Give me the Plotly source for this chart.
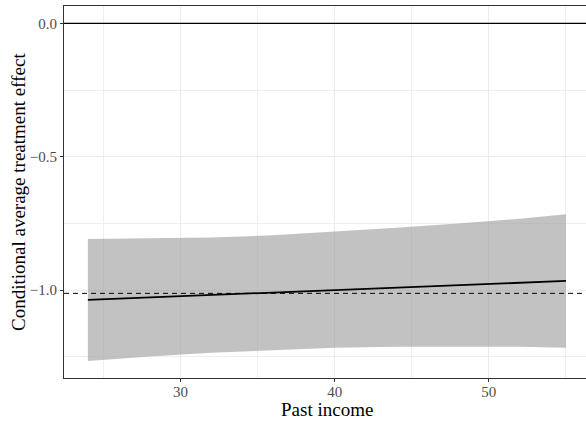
import plotly.graph_objects as go

# Data
past_income = [24, 28, 32, 36, 40, 44, 48, 52, 55]
cate = [-1.037, -1.028, -1.019, -1.010, -1.001, -0.991, -0.982, -0.973, -0.966]
upper = [-0.809, -0.807, -0.803, -0.795, -0.782, -0.767, -0.751, -0.733, -0.716]
lower = [-1.266, -1.249, -1.235, -1.225, -1.217, -1.213, -1.212, -1.213, -1.217]
ate = -1.0125
zero = 0.0

x_ticks = [30, 40, 50]
x_minor = [25, 35, 45, 55]
y_ticks = [0.0, -0.5, -1.0]
y_ticklabels = ["0.0", "\u22120.5", "\u22121.0"]
y_minor = [-0.25, -0.75, -1.25]

FONT = "Liberation Serif"
xr = [22.45, 56.3]
yr = [-1.330, 0.065]

fig = go.Figure()

fig.add_trace(go.Scatter(x=past_income, y=upper, mode="lines",
                         line=dict(width=0), hoverinfo="skip", showlegend=False))
fig.add_trace(go.Scatter(x=past_income, y=lower, mode="lines", fill="tonexty",
                         fillcolor="rgba(153,153,153,0.6)",
                         line=dict(width=0), hoverinfo="skip", showlegend=False))
fig.add_trace(go.Scatter(x=xr, y=[zero, zero], mode="lines",
                         line=dict(color="black", width=1.2), showlegend=False))
fig.add_trace(go.Scatter(x=xr, y=[ate, ate], mode="lines",
                         line=dict(color="black", width=1, dash="5px,4px"), showlegend=False))
fig.add_trace(go.Scatter(x=past_income, y=cate, mode="lines",
                         line=dict(color="black", width=1.8), showlegend=False))

fig.update_layout(
    width=586, height=422,
    margin=dict(l=64, r=0, t=6, b=44, autoexpand=False),
    paper_bgcolor="white", plot_bgcolor="white",
    font=dict(family=FONT, color="black"),
    showlegend=False,
    xaxis=dict(
        range=xr, tickvals=x_ticks, ticktext=[str(v) for v in x_ticks],
        automargin=False,
        showgrid=True, gridcolor="#EBEBEB", gridwidth=1,
        minor=dict(tickvals=x_minor, showgrid=True, gridcolor="#EFEFEF", gridwidth=1, ticks=""),
        showline=True, linecolor="#333333", linewidth=1, mirror=True,
        ticks="outside", ticklen=3, tickcolor="#333333", tickwidth=1,
        ticklabelstandoff=-3,
        tickfont=dict(family=FONT, size=15, color="#4D4D4D"),
        zeroline=False,
    ),
    yaxis=dict(
        range=yr, tickvals=y_ticks, ticktext=y_ticklabels,
        automargin=False,
        showgrid=True, gridcolor="#EBEBEB", gridwidth=1,
        minor=dict(tickvals=y_minor, showgrid=True, gridcolor="#EFEFEF", gridwidth=1, ticks=""),
        showline=True, linecolor="#333333", linewidth=1, mirror=False,
        ticks="outside", ticklen=3, tickcolor="#333333", tickwidth=1,
        tickfont=dict(family=FONT, size=15, color="#4D4D4D"),
        zeroline=False,
    ),
    annotations=[
        dict(text="Past income", xref="x", yref="paper", x=39.48, y=0,
             xanchor="center", yanchor="middle", yshift=-31, showarrow=False,
             font=dict(family=FONT, size=19, color="black")),
        dict(text="Conditional average treatment effect", xref="paper", yref="paper",
             x=0, y=0.5, xanchor="center", yanchor="middle", xshift=-46,
             textangle=-90, showarrow=False,
             font=dict(family=FONT, size=19, color="black")),
    ],
)

fig.write_html("out.html", config={"displayModeBar": False},
               post_script="document.body.style.margin='0';document.body.style.overflow='hidden';")
